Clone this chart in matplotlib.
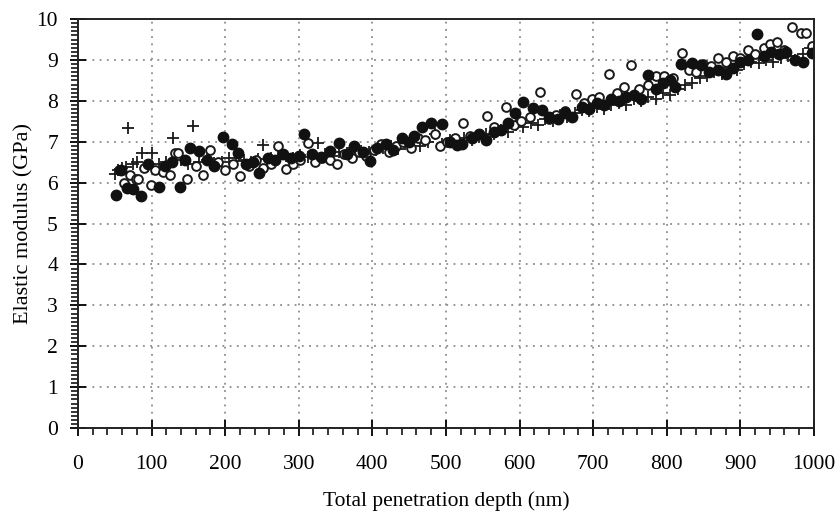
import matplotlib
matplotlib.use("Agg")
import matplotlib.pyplot as plt
from matplotlib.ticker import MultipleLocator

plt.rcParams['font.family'] = ['Liberation Serif', 'DejaVu Serif']

# plus markers
depth_plus = [50, 55, 60, 65, 68, 75, 80, 87, 95, 100, 110, 120, 129, 140, 150, 156, 165, 175, 185, 195,
              205, 215, 225, 235, 245, 252, 262, 272, 282, 292, 302, 312, 326, 335, 345, 355, 365, 375, 385, 395,
              405, 415, 425, 435, 445, 455, 465, 475, 485, 495, 505, 515, 525, 535, 545, 555, 565, 575, 585, 595,
              605, 615, 625, 635, 645, 655, 665, 675, 685, 695, 705, 715, 725, 735, 745, 755, 765, 775, 785, 795,
              805, 815, 825, 835, 845, 855, 865, 875, 885, 895, 905, 915, 925, 935, 945, 955, 965, 975, 985, 995]
mod_plus = [6.22, 6.30, 6.35, 6.38, 7.33, 6.45, 6.50, 6.73, 6.40, 6.73, 6.45, 6.50, 7.10, 6.55, 6.45, 7.38, 6.50, 6.55, 6.48, 6.50,
            6.60, 6.52, 6.55, 6.50, 6.58, 6.92, 6.60, 6.62, 6.65, 6.60, 6.68, 6.62, 6.98, 6.70, 6.65, 6.75, 6.72, 6.85, 6.78, 6.75,
            6.80, 6.85, 6.90, 6.82, 6.95, 7.10, 6.90, 7.00, 7.18, 6.95, 7.05, 7.00, 7.10, 7.05, 7.12, 7.20, 7.18, 7.30, 7.25, 7.40,
            7.35, 7.45, 7.40, 7.55, 7.50, 7.65, 7.60, 7.70, 7.78, 7.75, 7.85, 7.80, 7.90, 7.95, 7.90, 8.05, 8.00, 8.10, 8.05, 8.20,
            8.15, 8.30, 8.40, 8.45, 8.55, 8.60, 8.70, 8.65, 8.80, 8.75, 8.90, 8.95, 8.92, 9.00, 8.95, 9.05, 9.10, 9.00, 9.15, 9.30]

# filled circles
depth_filled = [52, 58, 66, 75, 85, 95, 110, 118, 128, 138, 145, 152, 165, 175, 185, 197, 209, 218, 228, 238,
                246, 258, 268, 278, 290, 300, 307, 318, 330, 342, 355, 365, 375, 387, 397, 407, 418, 428, 440, 450,
                457, 467, 480, 494, 505, 515, 522, 535, 545, 555, 565, 575, 585, 594, 605, 618, 630, 640, 652, 662,
                672, 685, 695, 705, 715, 725, 735, 745, 755, 765, 775, 785, 795, 805, 812, 820, 834, 847, 858, 870,
                880, 890, 900, 910, 923, 932, 942, 952, 962, 975, 985, 997]
mod_filled = [5.71, 6.30, 5.86, 5.84, 5.67, 6.45, 5.90, 6.40, 6.50, 5.90, 6.55, 6.85, 6.78, 6.55, 6.40, 7.11, 6.94, 6.72, 6.45, 6.50,
              6.24, 6.60, 6.55, 6.70, 6.60, 6.65, 7.20, 6.70, 6.62, 6.78, 6.98, 6.70, 6.90, 6.75, 6.54, 6.85, 6.95, 6.80, 7.10, 7.00,
              7.15, 7.35, 7.45, 7.43, 7.00, 6.92, 6.95, 7.10, 7.20, 7.05, 7.25, 7.30, 7.45, 7.70, 7.98, 7.83, 7.78, 7.60, 7.55, 7.70,
              7.60, 7.85, 7.80, 7.95, 7.90, 8.05, 8.00, 8.10, 8.15, 8.05, 8.63, 8.30, 8.45, 8.50, 8.35, 8.90, 8.92, 8.89, 8.70, 8.75,
              8.65, 8.80, 8.95, 9.00, 9.63, 9.10, 9.20, 9.15, 9.20, 9.00, 8.96, 9.16]

# open circles
depth_open = [56, 62, 70, 79, 82, 90, 99, 105, 115, 125, 132, 136, 148, 160, 170, 179, 190, 200, 210, 220,
              232, 242, 252, 262, 272, 283, 292, 302, 313, 322, 332, 342, 352, 362, 372, 382, 392, 402, 412, 422,
              432, 442, 452, 462, 472, 485, 492, 502, 512, 523, 533, 545, 556, 566, 582, 592, 602, 614, 628, 640,
              650, 662, 677, 688, 698, 708, 722, 732, 742, 752, 762, 775, 786, 797, 808, 821, 830, 840, 850, 860,
              870, 880, 890, 900, 910, 920, 932, 940, 950, 960, 970, 983, 990, 998]
mod_open = [6.30, 6.00, 6.20, 6.10, 6.10, 6.35, 5.94, 6.30, 6.25, 6.20, 6.73, 6.73, 6.08, 6.40, 6.20, 6.80, 6.50, 6.30, 6.45, 6.16,
            6.40, 6.55, 6.35, 6.45, 6.90, 6.33, 6.45, 6.55, 6.96, 6.50, 6.60, 6.55, 6.45, 6.70, 6.60, 6.75, 6.65, 6.80, 6.95, 6.75,
            6.90, 7.00, 6.85, 7.10, 7.05, 7.20, 6.90, 7.00, 7.10, 7.47, 7.15, 7.20, 7.63, 7.35, 7.86, 7.40, 7.50, 7.60, 8.21, 7.55,
            7.65, 7.75, 8.16, 7.95, 8.05, 8.10, 8.65, 8.20, 8.35, 8.87, 8.30, 8.40, 8.60, 8.60, 8.55, 9.16, 8.75, 8.70, 8.90, 8.85,
            9.05, 8.95, 9.10, 9.05, 9.25, 9.15, 9.30, 9.40, 9.45, 9.25, 9.81, 9.67, 9.67, 9.35]

fig = plt.figure(figsize=(8.39, 5.17), dpi=100)
ax = fig.add_axes([0.093, 0.172, 0.877, 0.791])

ax.plot(depth_plus, mod_plus, linestyle='none', marker='+', markersize=8, markeredgewidth=1.3, color='#1a1a1a')
ax.plot(depth_open, mod_open, linestyle='none', marker='o', markersize=6.3, markeredgewidth=1.4,
        markerfacecolor='white', markeredgecolor='#1a1a1a')
ax.plot(depth_filled, mod_filled, linestyle='none', marker='o', markersize=7.5, color='#111111')

ax.set_xlim(0, 1000)
ax.set_ylim(0, 10)
ax.xaxis.set_major_locator(MultipleLocator(100))
ax.xaxis.set_minor_locator(MultipleLocator(20))
ax.yaxis.set_major_locator(MultipleLocator(1))
ax.yaxis.set_minor_locator(MultipleLocator(0.1))

ax.grid(True, which='major', linestyle=(0, (1, 3)), color='#8c8c8c', linewidth=1.3)
ax.set_axisbelow(True)

ax.tick_params(which='major', direction='inout', length=11, width=1.3, labelsize=15.5)
ax.tick_params(axis='x', which='major', pad=14)
ax.tick_params(axis='y', which='major', pad=9)
ax.tick_params(which='minor', direction='out', length=5, width=1.1)
ax.tick_params(top=False, right=False, which='both')
for s in ax.spines.values():
    s.set_linewidth(1.4)
    s.set_color('#222222')

ax.set_xlabel('Total penetration depth (nm)', fontsize=15.5, labelpad=12)
ax.set_ylabel('Elastic modulus (GPa)', fontsize=16, labelpad=2)

fig.savefig('out.png', dpi=100)
